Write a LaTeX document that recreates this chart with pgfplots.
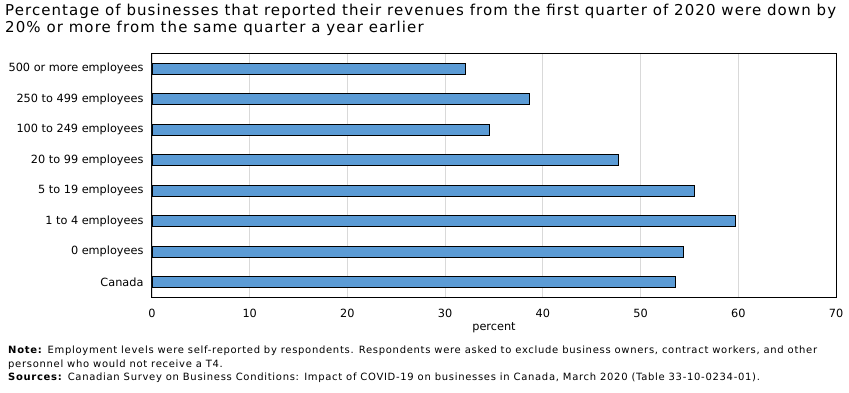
\documentclass[border=0pt]{standalone}
\usepackage{fontspec}
\setmainfont{DejaVu Sans}
\usepackage{pgfplots}
\pgfplotsset{compat=1.18}
\definecolor{barblue}{HTML}{5B9BD5}
\definecolor{gridgray}{HTML}{D9D9D9}
\begin{document}
\begin{tikzpicture}[x=1pt,y=1pt]
\useasboundingbox (0pt,0pt) rectangle (849pt,393pt);
\node[anchor=north west, align=left, font=\fontsize{15}{16.5}\selectfont\addfontfeature{LetterSpace=7.2}, inner sep=0pt] at (5pt,389pt)
 {Percentage of businesses that reported their revenues from the first quarter of 2020 were down by\\20\% or more from the same quarter a year earlier};
\begin{axis}[at={(152pt,95.3pt)}, anchor=south west, scale only axis,
 width=684pt, height=244.4pt,
 xbar, xmin=0, xmax=70, ymin=-0.5, ymax=7.5, bar width=11pt,
 xtick={0,10,...,70}, ytick={0,...,7},
 yticklabels={Canada, 0 employees, 1 to 4 employees, 5 to 19 employees, 20 to 99 employees, 100 to 249 employees, 250 to 499 employees, 500 or more employees},
 xmajorgrids, major grid style={gridgray, line width=0.8pt},
 major tick length=0pt,
 axis line style={black, line width=1pt},
 tick label style={font=\fontsize{11.3}{13}\selectfont},
 /pgf/number format/assume math mode=true,
 xticklabel style={yshift=-8pt},
 yticklabel style={xshift=-5pt},
 xlabel={percent}, xlabel style={font=\fontsize{11.3}{13}\selectfont, yshift=2pt},
]
\addplot[fill=barblue, draw=black, line width=0.9pt] coordinates {
(53.6,0) (54.4,1) (59.7,2) (55.5,3) (47.7,4) (34.5,5) (38.6,6) (32.1,7)};
\end{axis}
\node[anchor=north west, align=left, font=\fontsize{10}{13.5}\selectfont\addfontfeature{LetterSpace=7}, inner sep=0pt] at (8pt,47pt)
 {\textbf{Note:} Employment levels were self-reported by respondents. Respondents were asked to exclude business owners, contract workers, and other\\
 personnel who would not receive a T4.\\
 \textbf{Sources:} Canadian Survey on Business Conditions: Impact of COVID-19 on businesses in Canada, March 2020 (Table 33-10-0234-01).};
\end{tikzpicture}
\end{document}
